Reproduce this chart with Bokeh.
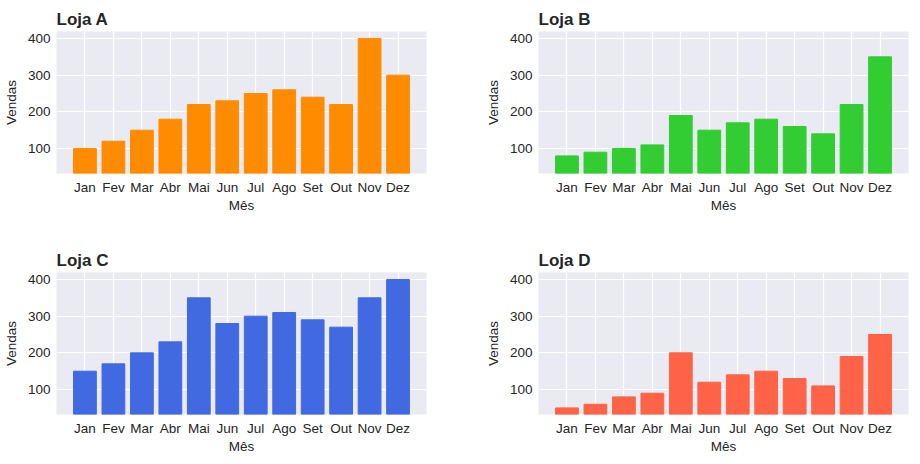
from bokeh.plotting import figure
from bokeh.layouts import column, row, Spacer
from bokeh.models import Range1d, FixedTicker, ColumnDataSource
from bokeh.embed import file_html
from bokeh.resources import INLINE

months = ["Jan", "Fev", "Mar", "Abr", "Mai", "Jun", "Jul", "Ago", "Set", "Out", "Nov", "Dez"]
loja_a = [100, 120, 150, 180, 220, 230, 250, 260, 240, 220, 400, 300]
loja_b = [80, 90, 100, 110, 190, 150, 170, 180, 160, 140, 220, 350]
loja_c = [150, 170, 200, 230, 350, 280, 300, 310, 290, 270, 350, 400]
loja_d = [50, 60, 80, 90, 200, 120, 140, 150, 130, 110, 190, 250]
titles = ["Loja A", "Loja B", "Loja C", "Loja D"]
colors = ["#FF8C00", "#32CD32", "#4169E1", "#FF6347"]
y_ticks = [100, 200, 300, 400]

FONT = "Liberation Sans"
TXT = "#262626"


def make(title, vals, color, left_border, right_border, bottom_border):
    x = list(range(len(months)))
    src = ColumnDataSource(dict(x=x, top=vals))
    p = figure(frame_width=370, frame_height=142, output_backend="svg", toolbar_location=None,
               x_range=Range1d(-1, 12), y_range=Range1d(32, 419),
               min_border_left=left_border, min_border_right=right_border,
               min_border_top=0, min_border_bottom=bottom_border)
    p.vbar(x="x", top="top", bottom=0, width=0.8, color=color, source=src)
    p.background_fill_color = "#EAEAF2"
    p.border_fill_color = "white"
    p.outline_line_color = None
    p.title.text = title
    p.title.text_font = FONT
    p.title.text_font_size = "17px"
    p.title.text_font_style = "bold"
    p.title.text_color = TXT
    p.title.align = "left"
    p.title.standoff = 6
    p.xaxis.ticker = FixedTicker(ticks=x)
    p.xaxis.major_label_overrides = {i: m for i, m in enumerate(months)}
    p.yaxis.ticker = FixedTicker(ticks=y_ticks)
    for ax in (p.xaxis, p.yaxis):
        ax.axis_line_color = None
        ax.major_tick_line_color = None
        ax.minor_tick_line_color = None
        ax.major_tick_out = 0
        ax.major_tick_in = 0
        ax.minor_tick_out = 0
        ax.minor_tick_in = 0
        ax.major_label_text_font = FONT
        ax.major_label_text_font_size = "13.5px"
        ax.major_label_text_color = TXT
        ax.axis_label_text_font = FONT
        ax.axis_label_text_font_size = "13.5px"
        ax.axis_label_text_font_style = "normal"
        ax.axis_label_text_color = TXT
    p.xaxis.axis_label = "Mês"
    p.yaxis.axis_label = "Vendas"
    p.xaxis.major_label_standoff = 6
    p.xaxis.axis_label_standoff = 0
    p.yaxis.major_label_standoff = 6
    p.yaxis.axis_label_standoff = 6
    p.xgrid.grid_line_color = "white"
    p.ygrid.grid_line_color = "white"
    p.xgrid.grid_line_width = 1.2
    p.ygrid.grid_line_width = 1.2
    return p


data = [loja_a, loja_b, loja_c, loja_d]
f1 = make(titles[0], data[0], colors[0], 50, 32, 72)
f2 = make(titles[1], data[1], colors[1], 80, 2, 72)
f3 = make(titles[2], data[2], colors[2], 50, 32, 38)
f4 = make(titles[3], data[3], colors[3], 80, 2, 38)

layout = column(Spacer(height=4), row(f1, f2, spacing=0), row(f3, f4, spacing=0), spacing=0)
open("out.html", "w").write(file_html(layout, INLINE))
